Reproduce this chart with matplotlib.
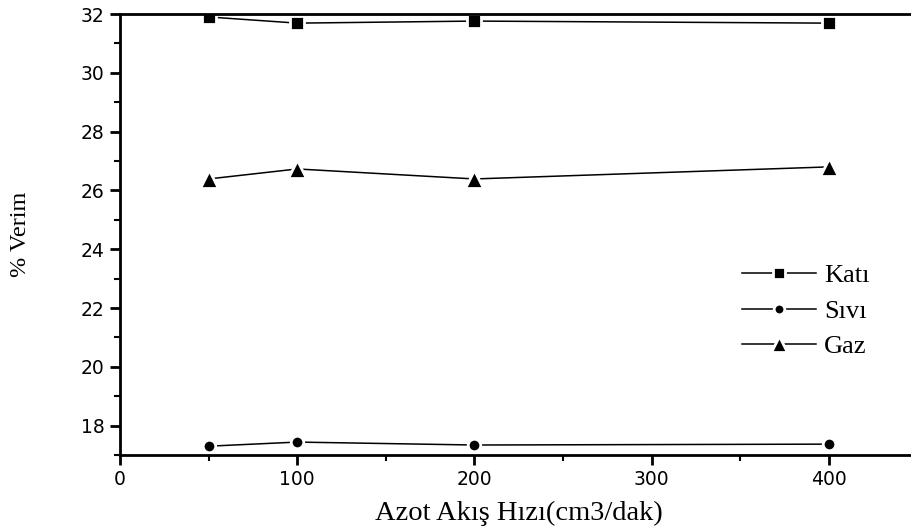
import matplotlib.pyplot as plt
from matplotlib.ticker import MultipleLocator

# Azot akış hızına göre ürün verimleri
akis_hizi = [50, 100, 200, 400]
kati = [31.90, 31.69, 31.76, 31.69]
sivi = [17.30, 17.44, 17.34, 17.37]
gaz = [26.39, 26.73, 26.39, 26.80]

serif = ['Liberation Serif', 'DejaVu Serif']
sans = ['DejaVu Sans']


def main():
    fig = plt.figure(figsize=(9.12, 5.31), dpi=100)
    ax = fig.add_axes([0.1316, 0.1431, 0.8684, 0.8305])

    # white marker edge leaves a small gap where the line meets the marker
    style = dict(color='black', lw=1.1, mec='white', mew=2)
    ax.plot(akis_hizi, kati, marker='s', ms=9.5, label='Katı', **style)
    ax.plot(akis_hizi, sivi, marker='o', ms=9, label='Sıvı', **style)
    ax.plot(akis_hizi, gaz, marker='^', ms=13, label='Gaz', **style)

    ax.set_xlim(0, 447)
    ax.set_ylim(17, 32)
    ax.xaxis.set_major_locator(MultipleLocator(100))
    ax.xaxis.set_minor_locator(MultipleLocator(50))
    ax.yaxis.set_minor_locator(MultipleLocator(1))
    ax.set_yticks([18, 20, 22, 24, 26, 28, 30, 32])

    for side in ['left', 'bottom', 'top']:
        ax.spines[side].set_linewidth(2)
    ax.spines['right'].set_visible(False)

    ax.tick_params(which='major', direction='out', length=7, width=2, pad=4)
    ax.tick_params(which='minor', direction='out', length=4, width=1.5)
    for lbl in ax.get_xticklabels() + ax.get_yticklabels():
        lbl.set_family(sans)
        lbl.set_fontsize(13.5)

    ax.set_xlabel('Azot Akış Hızı(cm3/dak)', family=serif, fontsize=20.5)
    ax.xaxis.set_label_coords(0.504, -0.105)
    ax.set_ylabel('% Verim', family=serif, fontsize=17.5)
    ax.yaxis.set_label_coords(-0.112, 0.5)

    ax.legend(loc='upper left', bbox_to_anchor=(742 / 912, 1 - 264 / 531),
              bbox_transform=fig.transFigure, frameon=False,
              prop={'family': serif, 'size': 19}, handlelength=2.8,
              labelspacing=0.45, handletextpad=0.3, borderpad=0,
              borderaxespad=0, markerscale=0.85)

    fig.savefig('out.png', dpi=100)
    plt.close(fig)


if __name__ == '__main__':
    main()
